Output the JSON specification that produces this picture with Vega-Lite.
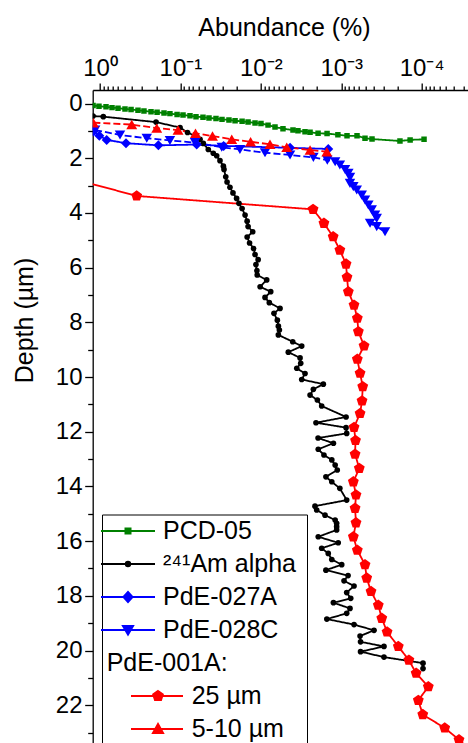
{
  "$schema": "https://vega.github.io/schema/vega-lite/v6.json",
  "width": 375.3,
  "height": 653,
  "autosize": {"type": "none"},
  "padding": {"left": 92.7, "top": 90, "right": 0, "bottom": 0},
  "config": {
    "view": {"stroke": null},
    "font": "Liberation Sans",
    "axis": {
      "domainColor": "black", "domainWidth": 1.3, "tickColor": "black", "tickWidth": 1.3,
      "labelColor": "black", "titleColor": "black", "labelFont": "Liberation Sans", "titleFont": "Liberation Sans",
      "labelFontSize": 24, "titleFontSize": 25, "titleFontWeight": "normal", "grid": false,
      "labelOverlap": false, "labelFlush": false, "labelBound": false
    }
  },
  "data": {
    "values": [
      {"series": "PCD-05", "abundance": 1.22, "depth": 0.07},
      {"series": "PCD-05", "abundance": 1.03, "depth": 0.10},
      {"series": "PCD-05", "abundance": 0.842, "depth": 0.12},
      {"series": "PCD-05", "abundance": 0.709, "depth": 0.15},
      {"series": "PCD-05", "abundance": 0.597, "depth": 0.17},
      {"series": "PCD-05", "abundance": 0.489, "depth": 0.20},
      {"series": "PCD-05", "abundance": 0.411, "depth": 0.22},
      {"series": "PCD-05", "abundance": 0.337, "depth": 0.25},
      {"series": "PCD-05", "abundance": 0.284, "depth": 0.27},
      {"series": "PCD-05", "abundance": 0.232, "depth": 0.30},
      {"series": "PCD-05", "abundance": 0.195, "depth": 0.32},
      {"series": "PCD-05", "abundance": 0.160, "depth": 0.35},
      {"series": "PCD-05", "abundance": 0.135, "depth": 0.37},
      {"series": "PCD-05", "abundance": 0.110, "depth": 0.40},
      {"series": "PCD-05", "abundance": 0.0928, "depth": 0.42},
      {"series": "PCD-05", "abundance": 0.076, "depth": 0.45},
      {"series": "PCD-05", "abundance": 0.064, "depth": 0.48},
      {"series": "PCD-05", "abundance": 0.0524, "depth": 0.50},
      {"series": "PCD-05", "abundance": 0.0441, "depth": 0.53},
      {"series": "PCD-05", "abundance": 0.0361, "depth": 0.55},
      {"series": "PCD-05", "abundance": 0.0304, "depth": 0.58},
      {"series": "PCD-05", "abundance": 0.0249, "depth": 0.60},
      {"series": "PCD-05", "abundance": 0.0209, "depth": 0.63},
      {"series": "PCD-05", "abundance": 0.0171, "depth": 0.65},
      {"series": "PCD-05", "abundance": 0.0144, "depth": 0.68},
      {"series": "PCD-05", "abundance": 0.0118, "depth": 0.71},
      {"series": "PCD-05", "abundance": 0.00995, "depth": 0.73},
      {"series": "PCD-05", "abundance": 0.00813, "depth": 0.79},
      {"series": "PCD-05", "abundance": 0.00666, "depth": 0.86},
      {"series": "PCD-05", "abundance": 0.0053, "depth": 0.92},
      {"series": "PCD-05", "abundance": 0.00398, "depth": 0.97},
      {"series": "PCD-05", "abundance": 0.00345, "depth": 1.00},
      {"series": "PCD-05", "abundance": 0.00282, "depth": 1.03},
      {"series": "PCD-05", "abundance": 0.00244, "depth": 1.05},
      {"series": "PCD-05", "abundance": 0.00194, "depth": 1.09},
      {"series": "PCD-05", "abundance": 0.0015, "depth": 1.10},
      {"series": "PCD-05", "abundance": 0.0011, "depth": 1.14},
      {"series": "PCD-05", "abundance": 0.000847, "depth": 1.18},
      {"series": "PCD-05", "abundance": 0.000636, "depth": 1.18},
      {"series": "PCD-05", "abundance": 0.000506, "depth": 1.27},
      {"series": "PCD-05", "abundance": 0.000414, "depth": 1.30},
      {"series": "PCD-05", "abundance": 0.000186, "depth": 1.37},
      {"series": "PCD-05", "abundance": 0.000139, "depth": 1.33},
      {"series": "PCD-05", "abundance": 0.0000933, "depth": 1.31},

      {"series": "²⁴¹Am alpha", "abundance": 1.22, "depth": 0.46},
      {"series": "²⁴¹Am alpha", "abundance": 0.91, "depth": 0.48},
      {"series": "²⁴¹Am alpha", "abundance": 0.201, "depth": 0.68},
      {"series": "²⁴¹Am alpha", "abundance": 0.101, "depth": 0.88},
      {"series": "²⁴¹Am alpha", "abundance": 0.0816, "depth": 1.06},
      {"series": "²⁴¹Am alpha", "abundance": 0.0627, "depth": 1.21},
      {"series": "²⁴¹Am alpha", "abundance": 0.057, "depth": 1.31},
      {"series": "²⁴¹Am alpha", "abundance": 0.0519, "depth": 1.46},
      {"series": "²⁴¹Am alpha", "abundance": 0.045, "depth": 1.68},
      {"series": "²⁴¹Am alpha", "abundance": 0.039, "depth": 1.82},
      {"series": "²⁴¹Am alpha", "abundance": 0.0354, "depth": 1.91},
      {"series": "²⁴¹Am alpha", "abundance": 0.0322, "depth": 2.09},
      {"series": "²⁴¹Am alpha", "abundance": 0.0292, "depth": 2.29},
      {"series": "²⁴¹Am alpha", "abundance": 0.0287, "depth": 2.41},
      {"series": "²⁴¹Am alpha", "abundance": 0.0273, "depth": 2.68},
      {"series": "²⁴¹Am alpha", "abundance": 0.0263, "depth": 2.87},
      {"series": "²⁴¹Am alpha", "abundance": 0.0242, "depth": 3.06},
      {"series": "²⁴¹Am alpha", "abundance": 0.0222, "depth": 3.27},
      {"series": "²⁴¹Am alpha", "abundance": 0.02, "depth": 3.47},
      {"series": "²⁴¹Am alpha", "abundance": 0.0187, "depth": 3.65},
      {"series": "²⁴¹Am alpha", "abundance": 0.0171, "depth": 3.84},
      {"series": "²⁴¹Am alpha", "abundance": 0.0157, "depth": 4.08},
      {"series": "²⁴¹Am alpha", "abundance": 0.0148, "depth": 4.30},
      {"series": "²⁴¹Am alpha", "abundance": 0.0144, "depth": 4.50},
      {"series": "²⁴¹Am alpha", "abundance": 0.0126, "depth": 4.69},
      {"series": "²⁴¹Am alpha", "abundance": 0.0148, "depth": 4.88},
      {"series": "²⁴¹Am alpha", "abundance": 0.0138, "depth": 5.10},
      {"series": "²⁴¹Am alpha", "abundance": 0.0123, "depth": 5.30},
      {"series": "²⁴¹Am alpha", "abundance": 0.0118, "depth": 5.52},
      {"series": "²⁴¹Am alpha", "abundance": 0.0108, "depth": 5.71},
      {"series": "²⁴¹Am alpha", "abundance": 0.0115, "depth": 5.89},
      {"series": "²⁴¹Am alpha", "abundance": 0.0112, "depth": 6.11},
      {"series": "²⁴¹Am alpha", "abundance": 0.0111, "depth": 6.27},
      {"series": "²⁴¹Am alpha", "abundance": 0.00845, "depth": 6.45},
      {"series": "²⁴¹Am alpha", "abundance": 0.0102, "depth": 6.70},
      {"series": "²⁴¹Am alpha", "abundance": 0.00753, "depth": 6.88},
      {"series": "²⁴¹Am alpha", "abundance": 0.00887, "depth": 7.09},
      {"series": "²⁴¹Am alpha", "abundance": 0.00784, "depth": 7.28},
      {"series": "²⁴¹Am alpha", "abundance": 0.00577, "depth": 7.49},
      {"series": "²⁴¹Am alpha", "abundance": 0.00686, "depth": 7.67},
      {"series": "²⁴¹Am alpha", "abundance": 0.00623, "depth": 7.92},
      {"series": "²⁴¹Am alpha", "abundance": 0.00605, "depth": 8.14},
      {"series": "²⁴¹Am alpha", "abundance": 0.00588, "depth": 8.28},
      {"series": "²⁴¹Am alpha", "abundance": 0.00605, "depth": 8.46},
      {"series": "²⁴¹Am alpha", "abundance": 0.00401, "depth": 8.71},
      {"series": "²⁴¹Am alpha", "abundance": 0.0031, "depth": 8.87},
      {"series": "²⁴¹Am alpha", "abundance": 0.00455, "depth": 9.09},
      {"series": "²⁴¹Am alpha", "abundance": 0.00325, "depth": 9.30},
      {"series": "²⁴¹Am alpha", "abundance": 0.00319, "depth": 9.50},
      {"series": "²⁴¹Am alpha", "abundance": 0.00357, "depth": 9.68},
      {"series": "²⁴¹Am alpha", "abundance": 0.00282, "depth": 9.87},
      {"series": "²⁴¹Am alpha", "abundance": 0.0031, "depth": 10.09},
      {"series": "²⁴¹Am alpha", "abundance": 0.00167, "depth": 10.26},
      {"series": "²⁴¹Am alpha", "abundance": 0.00222, "depth": 10.45},
      {"series": "²⁴¹Am alpha", "abundance": 0.00244, "depth": 10.66},
      {"series": "²⁴¹Am alpha", "abundance": 0.00198, "depth": 10.84},
      {"series": "²⁴¹Am alpha", "abundance": 0.00175, "depth": 11.06},
      {"series": "²⁴¹Am alpha", "abundance": 0.000871, "depth": 11.46},
      {"series": "²⁴¹Am alpha", "abundance": 0.00206, "depth": 11.67},
      {"series": "²⁴¹Am alpha", "abundance": 0.000871, "depth": 11.85},
      {"series": "²⁴¹Am alpha", "abundance": 0.000855, "depth": 12.06},
      {"series": "²⁴¹Am alpha", "abundance": 0.00194, "depth": 12.23},
      {"series": "²⁴¹Am alpha", "abundance": 0.00125, "depth": 12.42},
      {"series": "²⁴¹Am alpha", "abundance": 0.00193, "depth": 12.64},
      {"series": "²⁴¹Am alpha", "abundance": 0.00164, "depth": 12.85},
      {"series": "²⁴¹Am alpha", "abundance": 0.00131, "depth": 13.03},
      {"series": "²⁴¹Am alpha", "abundance": 0.00119, "depth": 13.22},
      {"series": "²⁴¹Am alpha", "abundance": 0.00112, "depth": 13.40},
      {"series": "²⁴¹Am alpha", "abundance": 0.00155, "depth": 13.65},
      {"series": "²⁴¹Am alpha", "abundance": 0.00131, "depth": 13.83},
      {"series": "²⁴¹Am alpha", "abundance": 0.00104, "depth": 14.07},
      {"series": "²⁴¹Am alpha", "abundance": 0.000855, "depth": 14.50},
      {"series": "²⁴¹Am alpha", "abundance": 0.00212, "depth": 14.72},
      {"series": "²⁴¹Am alpha", "abundance": 0.00202, "depth": 14.86},
      {"series": "²⁴¹Am alpha", "abundance": 0.00159, "depth": 15.05},
      {"series": "²⁴¹Am alpha", "abundance": 0.00119, "depth": 15.23},
      {"series": "²⁴¹Am alpha", "abundance": 0.00114, "depth": 15.35},
      {"series": "²⁴¹Am alpha", "abundance": 0.00114, "depth": 15.47},
      {"series": "²⁴¹Am alpha", "abundance": 0.00114, "depth": 15.59},
      {"series": "²⁴¹Am alpha", "abundance": 0.00193, "depth": 15.84},
      {"series": "²⁴¹Am alpha", "abundance": 0.00109, "depth": 16.06},
      {"series": "²⁴¹Am alpha", "abundance": 0.00175, "depth": 16.26},
      {"series": "²⁴¹Am alpha", "abundance": 0.00145, "depth": 16.45},
      {"series": "²⁴¹Am alpha", "abundance": 0.00131, "depth": 16.67},
      {"series": "²⁴¹Am alpha", "abundance": 0.000986, "depth": 16.86},
      {"series": "²⁴¹Am alpha", "abundance": 0.00155, "depth": 17.06},
      {"series": "²⁴¹Am alpha", "abundance": 0.000822, "depth": 17.26},
      {"series": "²⁴¹Am alpha", "abundance": 0.000923, "depth": 17.45},
      {"series": "²⁴¹Am alpha", "abundance": 0.000693, "depth": 17.64},
      {"series": "²⁴¹Am alpha", "abundance": 0.000855, "depth": 17.88},
      {"series": "²⁴¹Am alpha", "abundance": 0.000762, "depth": 18.09},
      {"series": "²⁴¹Am alpha", "abundance": 0.00125, "depth": 18.25},
      {"series": "²⁴¹Am alpha", "abundance": 0.000778, "depth": 18.46},
      {"series": "²⁴¹Am alpha", "abundance": 0.000855, "depth": 18.64},
      {"series": "²⁴¹Am alpha", "abundance": 0.00151, "depth": 18.85},
      {"series": "²⁴¹Am alpha", "abundance": 0.000693, "depth": 19.05},
      {"series": "²⁴¹Am alpha", "abundance": 0.000391, "depth": 19.26},
      {"series": "²⁴¹Am alpha", "abundance": 0.000583, "depth": 19.47},
      {"series": "²⁴¹Am alpha", "abundance": 0.000575, "depth": 19.68},
      {"series": "²⁴¹Am alpha", "abundance": 0.000294, "depth": 19.85},
      {"series": "²⁴¹Am alpha", "abundance": 0.000575, "depth": 20.04},
      {"series": "²⁴¹Am alpha", "abundance": 0.000294, "depth": 20.24},
      {"series": "²⁴¹Am alpha", "abundance": 0.0000961, "depth": 20.46},
      {"series": "²⁴¹Am alpha", "abundance": 0.0000961, "depth": 20.66},

      {"series": "PdE-027A", "abundance": 1.21, "depth": 1.02},
      {"series": "PdE-027A", "abundance": 1.02, "depth": 1.18},
      {"series": "PdE-027A", "abundance": 0.826, "depth": 1.33},
      {"series": "PdE-027A", "abundance": 0.475, "depth": 1.45},
      {"series": "PdE-027A", "abundance": 0.188, "depth": 1.53},
      {"series": "PdE-027A", "abundance": 0.0627, "depth": 1.50},
      {"series": "PdE-027A", "abundance": 0.029, "depth": 1.55},
      {"series": "PdE-027A", "abundance": 0.00433, "depth": 1.62},
      {"series": "PdE-027A", "abundance": 0.00145, "depth": 1.66},

      {"series": "PdE-028C", "abundance": 1.15, "depth": 0.97},
      {"series": "PdE-028C", "abundance": 0.564, "depth": 1.15},
      {"series": "PdE-028C", "abundance": 0.262, "depth": 1.27},
      {"series": "PdE-028C", "abundance": 0.135, "depth": 1.35},
      {"series": "PdE-028C", "abundance": 0.0658, "depth": 1.43},
      {"series": "PdE-028C", "abundance": 0.0306, "depth": 1.60},
      {"series": "PdE-028C", "abundance": 0.0182, "depth": 1.68},
      {"series": "PdE-028C", "abundance": 0.00887, "depth": 1.80},
      {"series": "PdE-028C", "abundance": 0.00433, "depth": 1.88},
      {"series": "PdE-028C", "abundance": 0.00222, "depth": 1.97},
      {"series": "PdE-028C", "abundance": 0.00149, "depth": 2.07},
      {"series": "PdE-028C", "abundance": 0.00119, "depth": 2.13},
      {"series": "PdE-028C", "abundance": 0.00104, "depth": 2.25},
      {"series": "PdE-028C", "abundance": 0.000897, "depth": 2.41},
      {"series": "PdE-028C", "abundance": 0.000816, "depth": 2.55},
      {"series": "PdE-028C", "abundance": 0.000778, "depth": 2.70},
      {"series": "PdE-028C", "abundance": 0.000778, "depth": 2.92},
      {"series": "PdE-028C", "abundance": 0.000707, "depth": 3.04},
      {"series": "PdE-028C", "abundance": 0.000641, "depth": 3.16},
      {"series": "PdE-028C", "abundance": 0.000556, "depth": 3.35},
      {"series": "PdE-028C", "abundance": 0.000506, "depth": 3.53},
      {"series": "PdE-028C", "abundance": 0.00046, "depth": 3.71},
      {"series": "PdE-028C", "abundance": 0.000418, "depth": 3.89},
      {"series": "PdE-028C", "abundance": 0.00038, "depth": 4.08},
      {"series": "PdE-028C", "abundance": 0.000362, "depth": 4.20},
      {"series": "PdE-028C", "abundance": 0.000438, "depth": 4.38},
      {"series": "PdE-028C", "abundance": 0.000362, "depth": 4.50},
      {"series": "PdE-028C", "abundance": 0.000285, "depth": 4.69},

      {"series": "25 µm", "abundance": 1.89, "depth": 2.80},
      {"series": "25 µm", "abundance": 0.35, "depth": 3.38},
      {"series": "25 µm", "abundance": 0.00224, "depth": 3.87},
      {"series": "25 µm", "abundance": 0.00164, "depth": 4.38},
      {"series": "25 µm", "abundance": 0.00126, "depth": 4.87},
      {"series": "25 µm", "abundance": 0.00104, "depth": 5.36},
      {"series": "25 µm", "abundance": 0.000871, "depth": 5.87},
      {"series": "25 µm", "abundance": 0.000847, "depth": 6.35},
      {"series": "25 µm", "abundance": 0.000816, "depth": 6.88},
      {"series": "25 µm", "abundance": 0.000693, "depth": 7.37},
      {"series": "25 µm", "abundance": 0.000631, "depth": 7.85},
      {"series": "25 µm", "abundance": 0.000612, "depth": 8.34},
      {"series": "25 µm", "abundance": 0.00052, "depth": 8.86},
      {"series": "25 µm", "abundance": 0.000631, "depth": 9.35},
      {"series": "25 µm", "abundance": 0.000583, "depth": 9.86},
      {"series": "25 µm", "abundance": 0.00054, "depth": 10.35},
      {"series": "25 µm", "abundance": 0.000551, "depth": 10.87},
      {"series": "25 µm", "abundance": 0.000583, "depth": 11.33},
      {"series": "25 µm", "abundance": 0.000693, "depth": 11.84},
      {"series": "25 µm", "abundance": 0.000664, "depth": 12.32},
      {"series": "25 µm", "abundance": 0.000673, "depth": 12.82},
      {"series": "25 µm", "abundance": 0.000596, "depth": 13.34},
      {"series": "25 µm", "abundance": 0.000707, "depth": 13.83},
      {"series": "25 µm", "abundance": 0.000655, "depth": 14.31},
      {"series": "25 µm", "abundance": 0.000673, "depth": 14.80},
      {"series": "25 µm", "abundance": 0.000655, "depth": 15.33},
      {"series": "25 µm", "abundance": 0.000707, "depth": 15.84},
      {"series": "25 µm", "abundance": 0.000631, "depth": 16.33},
      {"series": "25 µm", "abundance": 0.000506, "depth": 16.86},
      {"series": "25 µm", "abundance": 0.000482, "depth": 17.35},
      {"series": "25 µm", "abundance": 0.000426, "depth": 17.84},
      {"series": "25 µm", "abundance": 0.000346, "depth": 18.34},
      {"series": "25 µm", "abundance": 0.000313, "depth": 18.82},
      {"series": "25 µm", "abundance": 0.000269, "depth": 19.32},
      {"series": "25 µm", "abundance": 0.000195, "depth": 19.85},
      {"series": "25 µm", "abundance": 0.000144, "depth": 20.35},
      {"series": "25 µm", "abundance": 0.000117, "depth": 20.83},
      {"series": "25 µm", "abundance": 0.0000826, "depth": 21.32},
      {"series": "25 µm", "abundance": 0.00011, "depth": 21.82},
      {"series": "25 µm", "abundance": 0.0000968, "depth": 22.34},
      {"series": "25 µm", "abundance": 0.0000516, "depth": 22.83},
      {"series": "25 µm", "abundance": 0.0000343, "depth": 23.26},
      {"series": "25 µm", "abundance": 0.0000236, "depth": 23.71},

      {"series": "5-10 µm", "abundance": 1.21, "depth": 0.70},
      {"series": "5-10 µm", "abundance": 0.403, "depth": 0.77},
      {"series": "5-10 µm", "abundance": 0.197, "depth": 0.90},
      {"series": "5-10 µm", "abundance": 0.107, "depth": 0.97},
      {"series": "5-10 µm", "abundance": 0.0649, "depth": 1.09},
      {"series": "5-10 µm", "abundance": 0.0399, "depth": 1.19},
      {"series": "5-10 µm", "abundance": 0.023, "depth": 1.31},
      {"series": "5-10 µm", "abundance": 0.0134, "depth": 1.40},
      {"series": "5-10 µm", "abundance": 0.00769, "depth": 1.49},
      {"series": "5-10 µm", "abundance": 0.00476, "depth": 1.60},
      {"series": "5-10 µm", "abundance": 0.00244, "depth": 1.70},
      {"series": "5-10 µm", "abundance": 0.00151, "depth": 1.76}
    ]
  },
  "encoding": {
    "x": {
      "field": "abundance", "type": "quantitative",
      "scale": {"type": "log", "domain": [1.233, 0.0000265], "nice": false, "zero": false},
      "axis": {
        "orient": "top", "title": "Abundance (%)",
        "titleX": 191.3, "titleY": -55, "titleBaseline": "alphabetic", "titleAlign": "center", "titleAngle": 0,
        "values": [1, 0.9, 0.8, 0.7, 0.6, 0.5, 0.4, 0.3, 0.2, 0.1, 0.09, 0.08, 0.07, 0.06, 0.05, 0.04, 0.03, 0.02, 0.01, 0.009, 0.008, 0.007, 0.006, 0.005, 0.004, 0.003, 0.002, 0.001, 0.0009, 0.0008, 0.0007, 0.0006, 0.0005, 0.0004, 0.0003, 0.0002, 0.0001, 0.00009, 0.00008, 0.00007, 0.00006, 0.00005, 0.00004, 0.00003],
        "tickSize": {"condition": {"test": "abs(log(datum.value)/LN10 - round(log(datum.value)/LN10)) < 0.01", "value": 7}, "value": 4},
        "labelExpr": "abs(log(datum.value)/LN10 - round(log(datum.value)/LN10)) < 0.01 ? '10' + ['⁰','⁻¹','⁻²','⁻³','⁻⁴'][round(-log(datum.value)/LN10)] : ''",
        "labelPadding": 3
      }
    },
    "y": {
      "field": "depth", "type": "quantitative",
      "scale": {"domain": [-0.494, 23.38], "reverse": true, "nice": false, "zero": false},
      "axis": {
        "orient": "left", "title": "Depth (µm)",
        "titleX": -59.7, "titleY": 230, "titleAngle": -90, "titleBaseline": "alphabetic", "titleAlign": "center",
        "values": [0, 1, 2, 3, 4, 5, 6, 7, 8, 9, 10, 11, 12, 13, 14, 15, 16, 17, 18, 19, 20, 21, 22, 23],
        "tickSize": {"condition": {"test": "datum.value % 2 === 0", "value": 8}, "value": 5},
        "labelExpr": "datum.value % 2 === 0 ? datum.label : ''",
        "labelPadding": 2.7
      }
    }
  },
  "layer": [
    {
      "mark": {"type": "line", "clip": true, "strokeWidth": 1.8},
      "encoding": {
        "detail": {"field": "series", "type": "nominal"},
        "color": {
          "condition": [
            {"test": "datum.series === 'PCD-05'", "value": "#008000"},
            {"test": "datum.series === '²⁴¹Am alpha'", "value": "#000000"},
            {"test": "datum.series === 'PdE-027A' || datum.series === 'PdE-028C'", "value": "#0000ff"}
          ],
          "value": "#ff0000"
        },
        "strokeDash": {
          "condition": {"test": "datum.series === 'PdE-028C' || datum.series === '5-10 µm'", "value": [7, 3]},
          "value": [1, 0]
        },
        "order": {"value": null}
      }
    },
    {
      "mark": {"type": "point", "filled": true, "opacity": 1, "clip": true},
      "encoding": {
        "color": {
          "field": "series", "type": "nominal",
          "scale": {
            "domain": ["PCD-05", "²⁴¹Am alpha", "PdE-027A", "PdE-028C", "PdE-001A:", "25 µm", "5-10 µm"],
            "range": ["#008000", "#000000", "#0000ff", "#0000ff", "transparent", "#ff0000", "#ff0000"]
          },
          "legend": {
            "orient": "none", "legendX": 9.3, "legendY": 424.5, "title": null,
            "strokeColor": "black", "padding": 4, "rowPadding": 7,
            "labelFont": "Liberation Sans", "labelFontSize": 25, "labelColor": "black", "labelLimit": 0,
            "symbolSize": 4, "symbolStrokeWidth": 2, "symbolOffset": 9.5, "labelOffset": -33.8,
            "encoding": {
              "symbols": {
                "shape": {"value": {"expr": "['M-27,0H27M-2.5,-2.5H2.5V2.5H-2.5Z','M-27,0H27M-2.2,0A2.2,2.2,0,1,0,2.2,0A2.2,2.2,0,1,0,-2.2,0Z','M-27,0H27M-4.5,0L0,-5L4.5,0L0,5Z','M-27,0H27M-5,-4L5,-4L0,4.5Z','M0,0M171,0','M3,0H55M30,-5L34.8,-1.5L33,4L27,4L25.2,-1.5Z','M3,0H55M30,-5L35,4L25,4Z'][datum.index]"}},
                "stroke": {"value": {"expr": "scale('color', datum.value)"}},
                "fill": {"value": {"expr": "scale('color', datum.value)"}},
                "size": {"value": 4},
                "strokeWidth": {"value": 2},
                "opacity": {"value": 1}
              },
              "labels": {
                "dx": {"value": {"expr": "[56.3, 56.3, 56.3, 56.3, 0, 85, 85][datum.index]"}}
              }
            }
          }
        },
        "shape": {
          "condition": [
            {"test": "datum.series === 'PCD-05'", "value": "square"},
            {"test": "datum.series === '²⁴¹Am alpha'", "value": "circle"},
            {"test": "datum.series === 'PdE-027A'", "value": "diamond"},
            {"test": "datum.series === 'PdE-028C'", "value": "triangle-down"},
            {"test": "datum.series === '25 µm'", "value": "M0,-1L0.951,-0.309L0.588,0.809L-0.588,0.809L-0.951,-0.309Z"}
          ],
          "value": "triangle-up"
        },
        "size": {
          "condition": [
            {"test": "datum.series === 'PCD-05'", "value": 30},
            {"test": "datum.series === '²⁴¹Am alpha'", "value": 32},
            {"test": "datum.series === 'PdE-027A'", "value": 100},
            {"test": "datum.series === 'PdE-028C'", "value": 110},
            {"test": "datum.series === '25 µm'", "value": 130}
          ],
          "value": 120
        }
      }
    }
  ]
}
